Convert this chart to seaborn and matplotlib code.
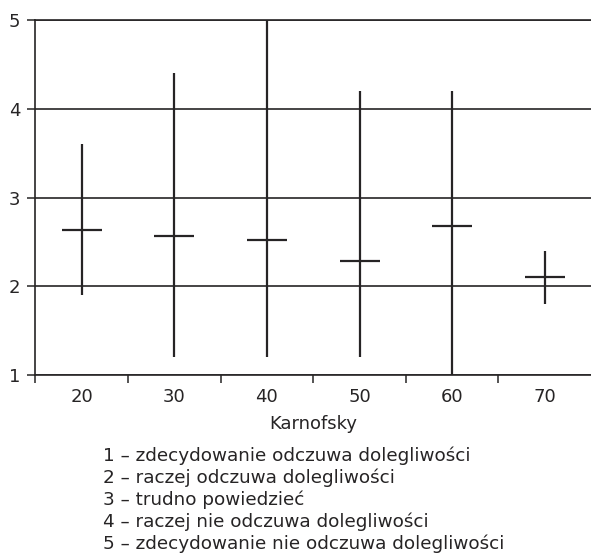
import matplotlib
matplotlib.use("Agg")
import matplotlib.pyplot as plt
import numpy as np
import pandas as pd
import seaborn as sns

# Karnofsky score groups and the answer scale (1-5) per group
KARNOFSKY = ["20", "30", "40", "50", "60", "70"]
MEAN = [2.63, 2.57, 2.52, 2.28, 2.68, 2.10]
LOW = [1.9, 1.2, 1.2, 1.2, 1.0, 1.8]
HIGH = [3.6, 4.4, 5.0, 4.2, 4.2, 2.4]
Y_TICKS = [1, 2, 3, 4, 5]

X_LABEL = "Karnofsky"
SCALE_NOTES = [
    "1 – zdecydowanie odczuwa dolegliwości",
    "2 – raczej odczuwa dolegliwości",
    "3 – trudno powiedzieć",
    "4 – raczej nie odczuwa dolegliwości",
    "5 – zdecydowanie nie odczuwa dolegliwości",
]

INK = "#262425"


def main():
    sns.set_style("ticks")
    plt.rcParams["font.family"] = ["DejaVu Sans"]
    plt.rcParams["text.color"] = INK

    df = pd.DataFrame({"karnofsky": KARNOFSKY, "mean": MEAN,
                       "low": LOW, "high": HIGH})

    fig = plt.figure(figsize=(5.91, 5.54), dpi=100)
    ax = fig.add_axes([0.060, 0.3231, 0.94, 0.6408])

    # range (min-max) as vertical lines
    pos = np.arange(len(df))
    ax.vlines(pos, df["low"], df["high"], colors=INK, linewidth=1.6,
              clip_on=False, zorder=3)

    # mean as a short horizontal dash
    sns.pointplot(data=df, x="karnofsky", y="mean", order=KARNOFSKY,
                  markers="_", linestyle="none", errorbar=None,
                  color=INK, markersize=29, markeredgewidth=1.6,
                  ax=ax, zorder=4)

    ax.set_xlim(-0.5, len(df) - 0.5)
    ax.set_ylim(1, 5)

    # ticks between groups, labels centred on groups
    ax.set_xticks(pos - 0.5)
    ax.set_xticklabels([])
    ax.set_xticks(pos, minor=True)
    ax.set_xticklabels(KARNOFSKY, minor=True)
    ax.tick_params(axis="x", which="major", length=6, width=1.1,
                   color=INK, direction="out")
    ax.tick_params(axis="x", which="minor", length=0, pad=9.5,
                   labelsize=13, labelcolor=INK)

    ax.set_yticks(Y_TICKS)
    ax.tick_params(axis="y", length=6, width=1.1, color=INK, pad=5,
                   labelsize=13, labelcolor=INK)

    ax.yaxis.grid(True, color=INK, linewidth=1.2)
    ax.set_axisbelow(True)

    for side in ["left", "bottom", "top"]:
        ax.spines[side].set_linewidth(1.2)
        ax.spines[side].set_color(INK)
    ax.spines["right"].set_visible(False)

    ax.set_xlabel(X_LABEL, fontsize=13, labelpad=6, color=INK)
    ax.set_ylabel("")

    # scale description under the chart
    for i, line in enumerate(SCALE_NOTES):
        fig.text(103 / 591, 1 - (461 + 22 * i) / 554, line,
                 ha="left", va="baseline", fontsize=13.2, color=INK)

    fig.savefig("out.png", dpi=100)
    plt.close(fig)


if __name__ == "__main__":
    main()
